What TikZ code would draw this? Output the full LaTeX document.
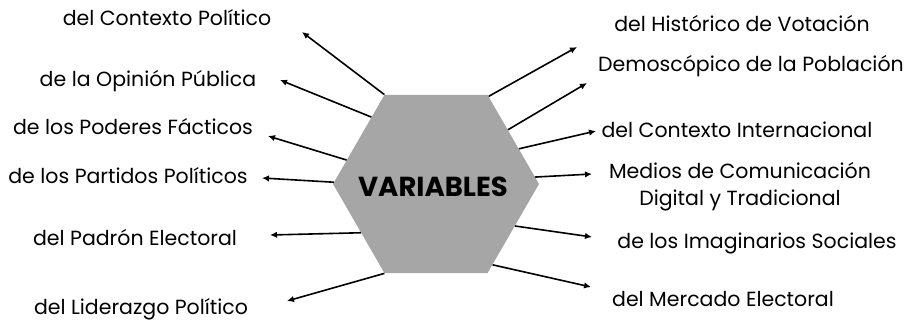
\documentclass[tikz,border=0pt]{standalone}
\usepackage{fontspec}
\setmainfont{Poppins}
\usetikzlibrary{shapes.geometric,arrows.meta}

\begin{document}
\begin{tikzpicture}[x=1pt,y=-1pt,
  lbl/.style={anchor=base,font=\fontsize{20.5}{27}\selectfont},
  arr/.style={line width=1.6pt,-{Latex[length=7pt,width=6.5pt]}}]

\useasboundingbox (0,0) rectangle (919,321);

% hexagon in the middle
\node[regular polygon,regular polygon sides=6,minimum size=206pt,inner sep=0pt,
  fill=black!35] (hex) at (436,184) {};
\node[font=\bfseries\fontsize{27.5}{30}\selectfont] (var) at (433,187) {VARIABLES};

% labels on the left
\node[lbl] (l1) at (167,26) {del Contexto Político};
\node[lbl] (l2) at (148,87) {de la Opinión Pública};
\node[lbl] (l3) at (133,135) {de los Poderes Fácticos};
\node[lbl] (l4) at (128,183) {de los Partidos Políticos};
\node[lbl] (l5) at (135,245) {del Padrón Electoral};
\node[lbl] (l6) at (141,314) {del Liderazgo Político};

% labels on the right
\node[lbl] (r1) at (742,32) {del Histórico de Votación};
\node[lbl] (r2) at (751,72) {Demoscópico de la Población};
\node[lbl] (r3) at (737,137) {del Contexto Internacional};
\node[lbl,anchor=center,align=center] (r4) at (740,187) {Medios de Comunicación\\Digital y Tradicional};
\node[lbl] (r5) at (757,248) {de los Imaginarios Sociales};
\node[lbl] (r6) at (723,306) {del Mercado Electoral};

% arrow tips
\coordinate (tl1) at (302,32);
\coordinate (tl2) at (280,80);
\coordinate (tl3) at (268,136);
\coordinate (tl4) at (262,178);
\coordinate (tl5) at (270,235);
\coordinate (tl6) at (287,301);
\coordinate (tr1) at (577,47);
\coordinate (tr2) at (587,83);
\coordinate (tr3) at (596,131);
\coordinate (tr4) at (592,174);
\coordinate (tr5) at (592,237);
\coordinate (tr6) at (591,287);

% arrows out of the hexagon
\foreach \a/\t in {120/tl1,134/tl2,165/tl3,179/tl4,213/tl5,240/tl6,
                   59/tr1,37/tr2,23/tr3,4/tr4,-28/tr5,-55/tr6}
  \draw[arr] (hex.\a) -- (\t);

\end{tikzpicture}
\end{document}
